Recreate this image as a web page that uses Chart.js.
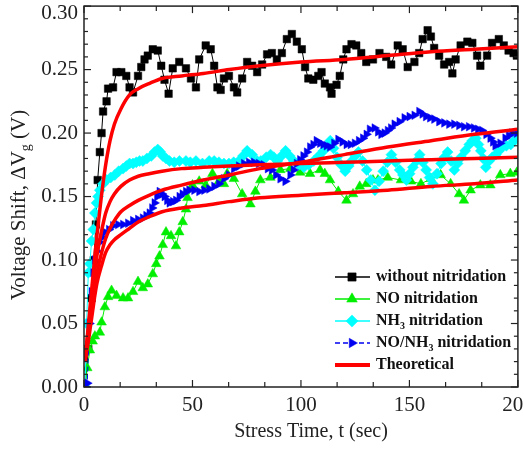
<!DOCTYPE html>
<html>
<head>
<meta charset="utf-8">
<script src="https://cdn.jsdelivr.net/npm/chart.js@4.4.1/dist/chart.umd.min.js"></script>
<style>
  html, body { margin: 0; padding: 0; background: #fff; }
</style>
</head>
<body>
<canvas id="myChart" width="524" height="450"></canvas>
<script>
// ---- data ----
const blackT = [0.5, 2, 3.5, 4.5, 5.5, 6.3, 7.3, 8.1, 8.8, 10.4,
  11.1, 13.4, 15, 17.2, 19.5, 21, 22.6, 24.9, 26.4, 27.9,
  29.4, 31.7, 34, 35.6, 37.1, 39, 40.9, 43.9, 47, 49.3,
  51.6, 53.1, 56.1, 58.4, 60, 61.5, 63, 64.5, 66.8, 69.1,
  70.6, 72.9, 75.2, 77.5, 79.8, 82.1, 84.4, 86.6, 88.9, 91.2,
  93.5, 95.8, 98.1, 100.4, 101.9, 103.4, 105.7, 108, 109.5, 111,
  113.4, 114.1, 116.4, 117.9, 119.5, 121, 123.3, 125.5, 127.8, 130.1,
  133.2, 136.2, 139.3, 141.6, 144.6, 146.9, 149.2, 152.3, 154.5, 156.1,
  158.4, 159.9, 161.4, 163.7, 166, 168.3, 169.8, 171.3, 173.6, 176.7,
  179, 181.2, 182.7, 185.8, 188.1, 191.2, 193.5, 195.7, 198, 199.5]
const blackV = [0.0, 0.03, 0.07, 0.10, 0.128, 0.163, 0.185, 0.200, 0.217, 0.225,
  0.235, 0.236, 0.248, 0.248, 0.245, 0.236, 0.232, 0.245, 0.252, 0.258,
  0.261, 0.266, 0.265, 0.253, 0.242, 0.231, 0.251, 0.256, 0.251, 0.243,
  0.236, 0.258, 0.269, 0.266, 0.253, 0.236, 0.234, 0.243, 0.245, 0.236,
  0.232, 0.243, 0.256, 0.253, 0.248, 0.254, 0.262, 0.263, 0.258, 0.263,
  0.274, 0.278, 0.272, 0.266, 0.252, 0.243, 0.242, 0.245, 0.248, 0.239,
  0.236, 0.231, 0.238, 0.245, 0.258, 0.266, 0.270, 0.269, 0.263, 0.256,
  0.258, 0.263, 0.260, 0.254, 0.269, 0.266, 0.252, 0.256, 0.263, 0.274,
  0.281, 0.276, 0.267, 0.261, 0.254, 0.256, 0.247, 0.258, 0.269, 0.272,
  0.271, 0.261, 0.253, 0.261, 0.271, 0.274, 0.269, 0.265, 0.263, 0.261]

const greenT = [0.5, 1.5, 2.7, 4, 5, 7.3, 8.1, 9.6, 11.1, 12.7,
  15, 18, 20.3, 22.6, 24.9, 27.1, 29.4, 31.7, 33.3, 34.8,
  36.3, 37.8, 40.1, 42.4, 43.9, 45.5, 47, 47.7, 50, 53.1,
  56.1, 59.2, 62.2, 64.5, 66, 69.1, 72.9, 76.7, 79, 81.3,
  85.9, 90.5, 95.1, 99.6, 104.2, 108.8, 111, 113.4, 117.2, 121,
  124, 127.1, 130.1, 133.2, 135.5, 140, 146.1, 150.7, 155.3, 159.9,
  164.4, 169, 172.9, 175.1, 178.2, 182.7, 187.3, 191.9, 196.5, 199.5]
const greenV = [0.0, 0.015, 0.029, 0.036, 0.040, 0.043, 0.051, 0.063, 0.071, 0.076,
  0.072, 0.070, 0.070, 0.075, 0.083, 0.078, 0.081, 0.089, 0.097, 0.103,
  0.112, 0.122, 0.119, 0.111, 0.122, 0.130, 0.140, 0.149, 0.159, 0.162,
  0.159, 0.168, 0.162, 0.160, 0.168, 0.164, 0.152, 0.144, 0.154, 0.163,
  0.165, 0.171, 0.172, 0.169, 0.168, 0.171, 0.168, 0.163, 0.154, 0.147,
  0.152, 0.158, 0.160, 0.163, 0.163, 0.165, 0.163, 0.162, 0.160, 0.164,
  0.167, 0.160, 0.152, 0.147, 0.155, 0.159, 0.159, 0.167, 0.168, 0.169]

const cyanT = [0.5, 1.2, 2, 2.7, 3.5, 4.3, 5, 5.8, 6.5, 7.3,
  8.8, 10.4, 12.3, 14.2, 16, 18, 19.5, 21, 22.6, 24.1,
  25.6, 27.1, 29, 31, 32.5, 34, 35.2, 36.3, 37.8, 39.4,
  41.6, 44, 47, 49, 51.6, 54.6, 57.7, 60, 62.2, 64.5,
  66.8, 69, 71.4, 73.3, 75.2, 77.5, 79.8, 81.5, 84, 86,
  87.5, 89.1, 91, 92.9, 94.8, 96.7, 99, 101.3, 103.6, 105.9,
  108.2, 110.4, 112, 113.5, 115, 116.6, 118.5, 120.4, 122, 123.4,
  125, 126.5, 128.4, 130.3, 132.2, 134.1, 136, 137.9, 139.8, 141.7,
  143.6, 145.5, 147, 148.6, 150.1, 151.6, 153.2, 154.7, 156.2, 157.7,
  159.3, 160.8, 162.7, 164.6, 166.1, 167.6, 169.2, 170.7, 172.2, 173.8,
  175.7, 177.6, 179, 180.6, 181.8, 182.9, 184, 185.2, 186.7, 188.2,
  189.8, 191.3, 192.8, 194.7, 196.7, 198.2, 199.7]
const cyanV = [0.0, 0.05, 0.09, 0.097, 0.115, 0.124, 0.137, 0.145, 0.150, 0.155,
  0.160, 0.163, 0.165, 0.167, 0.170, 0.172, 0.174, 0.176, 0.176, 0.177,
  0.178, 0.178, 0.180, 0.182, 0.185, 0.187, 0.185, 0.182, 0.180, 0.178,
  0.177, 0.178, 0.178, 0.177, 0.178, 0.176, 0.178, 0.178, 0.177, 0.176,
  0.176, 0.177, 0.178, 0.182, 0.186, 0.183, 0.178, 0.178, 0.181, 0.183,
  0.181, 0.178, 0.182, 0.186, 0.182, 0.178, 0.175, 0.173, 0.175, 0.178,
  0.182, 0.186, 0.190, 0.194, 0.188, 0.181, 0.175, 0.170, 0.174, 0.178,
  0.182, 0.185, 0.178, 0.171, 0.163, 0.155, 0.162, 0.170, 0.177, 0.183,
  0.177, 0.171, 0.167, 0.163, 0.168, 0.173, 0.178, 0.183, 0.177, 0.171,
  0.165, 0.160, 0.168, 0.176, 0.181, 0.185, 0.178, 0.171, 0.176, 0.181,
  0.186, 0.191, 0.194, 0.196, 0.191, 0.186, 0.180, 0.173, 0.178, 0.181,
  0.183, 0.186, 0.189, 0.190, 0.191, 0.194, 0.196]

const blueT = [0.5, 1.5, 2.5, 3.5, 4.3, 5, 6, 7.3, 8.5, 9.6,
  11.5, 13.4, 15.7, 18, 20.3, 22.6, 24.9, 27.1, 28.7, 30.2,
  31.4, 32.5, 33.7, 34.8, 36, 37.1, 38.3, 39.4, 41, 42.4,
  44, 45.4, 47, 48.5, 50.8, 53.1, 55.4, 57.7, 60, 62.2,
  64.5, 66.8, 69.1, 71.4, 73.7, 76, 78.3, 80.6, 82.8, 84.7,
  86.6, 88.5, 90.5, 92.8, 95.1, 96.6, 98.1, 99.6, 101.1, 102.7,
  104.2, 105.7, 107.2, 108.8, 110.3, 111.8, 113.4, 115.3, 117.2, 119.1,
  121, 122.9, 124.8, 126.7, 128.6, 130.2, 131.7, 133.9, 135.5, 137,
  138.5, 140, 141.5, 143.1, 145.4, 147.7, 150, 152.3, 154.5, 156,
  157.6, 159.5, 161.4, 163.7, 166, 168.3, 170.6, 172.9, 175.1, 177.4,
  179.7, 181.6, 183.5, 185.4, 187.3, 188.5, 189.6, 191.9, 194.2, 195.8,
  197.3, 199.5]
const blueV = [0.0, 0.003, 0.05, 0.075, 0.09, 0.1, 0.107, 0.114, 0.118, 0.122,
  0.124, 0.127, 0.128, 0.128, 0.129, 0.131, 0.132, 0.133, 0.135, 0.137,
  0.141, 0.145, 0.150, 0.154, 0.152, 0.150, 0.147, 0.145, 0.146, 0.147,
  0.150, 0.152, 0.154, 0.155, 0.155, 0.154, 0.155, 0.156, 0.158, 0.160,
  0.164, 0.167, 0.172, 0.174, 0.176, 0.177, 0.177, 0.176, 0.175, 0.172,
  0.171, 0.167, 0.164, 0.162, 0.167, 0.171, 0.176, 0.179, 0.182, 0.185,
  0.189, 0.191, 0.194, 0.192, 0.191, 0.190, 0.189, 0.192, 0.195, 0.193,
  0.191, 0.191, 0.192, 0.194, 0.196, 0.199, 0.203, 0.204, 0.201, 0.199,
  0.200, 0.202, 0.204, 0.207, 0.209, 0.212, 0.213, 0.214, 0.217, 0.215,
  0.213, 0.212, 0.211, 0.209, 0.208, 0.207, 0.207, 0.206, 0.205, 0.205,
  0.204, 0.203, 0.202, 0.199, 0.196, 0.193, 0.190, 0.192, 0.196, 0.198,
  0.200, 0.200]

// theoretical curves (one per sample)
const redT = [0.5, 1, 2, 3, 4, 5, 6, 8, 10, 12, 14, 17, 21, 25, 30, 36, 45, 55, 67, 81, 100, 120, 140, 160, 180, 200]
const redA = [0.022, 0.03, 0.048, 0.067, 0.085, 0.103, 0.12, 0.15, 0.175, 0.194, 0.207, 0.219, 0.230, 0.235, 0.239, 0.243, 0.245, 0.247, 0.250, 0.253, 0.256, 0.258, 0.261, 0.264, 0.266, 0.268]
const redB = [0.022, 0.03, 0.045, 0.062, 0.078, 0.092, 0.104, 0.122, 0.137, 0.146, 0.152, 0.158, 0.163, 0.166, 0.168, 0.170, 0.172, 0.173, 0.174, 0.175, 0.176, 0.177, 0.178, 0.179, 0.180, 0.181]
const redC = [0.02, 0.028, 0.04, 0.055, 0.068, 0.08, 0.09, 0.105, 0.117, 0.125, 0.131, 0.138, 0.143, 0.147, 0.151, 0.155, 0.159, 0.163, 0.167, 0.172, 0.177, 0.183, 0.189, 0.194, 0.199, 0.203]
const redD = [0.02, 0.026, 0.036, 0.048, 0.06, 0.072, 0.082, 0.095, 0.106, 0.112, 0.116, 0.120, 0.125, 0.130, 0.134, 0.138, 0.141, 0.143, 0.146, 0.149, 0.151, 0.153, 0.155, 0.158, 0.160, 0.163]

// axis ticks
const xMajorTicks = [0, 50, 100, 150, 200]
const xTickLabels = ['0', '50', '100', '150', '200']
const xMinorTicks = [16.67, 33.33, 66.67, 83.33, 116.67, 133.33, 166.67, 183.33]
const yMajorTicks = [0, 0.05, 0.10, 0.15, 0.20, 0.25, 0.30]
const yTickLabels = ['0.00', '0.05', '0.10', '0.15', '0.20', '0.25', '0.30']
const yMinorTicks = [0.01, 0.02, 0.03, 0.04, 0.06, 0.07, 0.08, 0.09, 0.11, 0.12, 0.13, 0.14,
  0.16, 0.17, 0.18, 0.19, 0.21, 0.22, 0.23, 0.24, 0.26, 0.27, 0.28, 0.29]

// legend: [label parts, dataset index]
const legendItems = [
  [[['without nitridation']], 0],
  [[['NO nitridation']], 1],
  [[['NH'], ['3', 'sub'], [' nitridation']], 2],
  [[['NO/NH'], ['3', 'sub'], [' nitridation']], 3],
  [[['Theoretical']], 4]
]

const serif = '"Liberation Serif", "DejaVu Serif", serif'

function pts(ts, vs) {
  return ts.map((t, i) => ({x: t, y: vs[i]}))
}

function marker(color, style, r, rot, order, label, dash) {
  return {
    label: label,
    borderColor: color,
    backgroundColor: color,
    pointBackgroundColor: color,
    pointBorderColor: color,
    borderWidth: 1,
    borderDash: dash || [],
    pointStyle: style,
    pointRadius: r,
    pointRotation: rot,
    pointBorderWidth: 0.5,
    order: order
  }
}

function theory(vals) {
  return {
    label: 'Theoretical',
    data: pts(redT, vals),
    borderColor: '#ff0000',
    borderWidth: 3.5,
    pointRadius: 0,
    cubicInterpolationMode: 'monotone',
    order: 0
  }
}

const datasets = [
  Object.assign(marker('#000000', 'rect', 5.3, 0, 4, 'without nitridation'), {data: pts(blackT, blackV)}),
  Object.assign(marker('#00ee00', 'triangle', 5.6, 0, 3, 'NO nitridation'), {data: pts(greenT, greenV)}),
  Object.assign(marker('#00ffff', 'rectRot', 5.5, 0, 2, 'NH3 nitridation'), {data: pts(cyanT, cyanV)}),
  Object.assign(marker('#0000f0', 'triangle', 5, 90, 1, 'NO/NH3 nitridation', [5, 3]), {data: pts(blueT, blueV)}),
  theory(redA), theory(redB), theory(redC), theory(redD)
]

function drawParts(ctx, parts, x, y, size, bold) {
  // draws text with subscripts, returns width
  let cx = x
  for (let p of parts) {
    let sub = p[1] == 'sub'
    let fs = sub ? Math.round(size * 0.65) : size
    ctx.font = (bold ? 'bold ' : '') + fs + 'px ' + serif
    ctx.fillText(p[0], cx, sub ? y + size * 0.35 : y)
    cx += ctx.measureText(p[0]).width
  }
  return cx - x
}

function partsWidth(ctx, parts, size, bold) {
  let w = 0
  for (let p of parts) {
    let fs = p[1] == 'sub' ? Math.round(size * 0.65) : size
    ctx.font = (bold ? 'bold ' : '') + fs + 'px ' + serif
    w += ctx.measureText(p[0]).width
  }
  return w
}

const framePlugin = {
  id: 'frame',
  afterDraw(chart) {
    const ctx = chart.ctx
    const ca = chart.chartArea
    const xs = chart.scales.x, ys = chart.scales.y
    ctx.save()
    ctx.strokeStyle = '#222'
    ctx.lineWidth = 1.5
    ctx.strokeRect(ca.left, ca.top, ca.right - ca.left, ca.bottom - ca.top)

    function seg(x1, y1, x2, y2) {
      ctx.beginPath(); ctx.moveTo(x1, y1); ctx.lineTo(x2, y2); ctx.stroke()
    }
    ctx.lineWidth = 1.2
    for (let v of xMajorTicks) {
      let px = xs.getPixelForValue(v)
      seg(px, ca.bottom, px, ca.bottom - 7); seg(px, ca.top, px, ca.top + 7)
    }
    for (let v of xMinorTicks) {
      let px = xs.getPixelForValue(v)
      seg(px, ca.bottom, px, ca.bottom - 5); seg(px, ca.top, px, ca.top + 5)
    }
    for (let v of yMajorTicks) {
      let py = ys.getPixelForValue(v)
      seg(ca.left, py, ca.left + 7, py); seg(ca.right, py, ca.right - 7, py)
    }
    for (let v of yMinorTicks) {
      let py = ys.getPixelForValue(v)
      seg(ca.left, py, ca.left + 4, py); seg(ca.right, py, ca.right - 4, py)
    }

    // tick labels
    ctx.fillStyle = '#222'
    ctx.font = '21px ' + serif
    ctx.textAlign = 'right'
    ctx.textBaseline = 'middle'
    yMajorTicks.forEach((v, i) => {
      let py = Math.max(ys.getPixelForValue(v), 13)
      ctx.fillText(yTickLabels[i], ca.left - 6, py)
    })
    ctx.textAlign = 'center'
    ctx.textBaseline = 'top'
    xMajorTicks.forEach((v, i) => {
      ctx.fillText(xTickLabels[i], xs.getPixelForValue(v), ca.bottom + 8)
    })

    // axis titles
    ctx.textAlign = 'center'
    ctx.textBaseline = 'middle'
    ctx.font = '20px ' + serif
    ctx.fillText('Stress Time, t (sec)', 311, 432)

    let yTitle = [['Voltage Shift, \u0394V'], ['g', 'sub'], [' (V)']]
    ctx.save()
    ctx.translate(19, 205)
    ctx.rotate(-Math.PI / 2)
    ctx.textAlign = 'left'
    let w = partsWidth(ctx, yTitle, 21, false)
    drawParts(ctx, yTitle, -w / 2, 0, 21, false)
    ctx.restore()

    // legend
    ctx.textAlign = 'left'
    ctx.textBaseline = 'middle'
    legendItems.forEach((item, i) => {
      let ds = chart.data.datasets[item[1]]
      let ly = 277 + i * 22
      ctx.strokeStyle = ds.borderColor
      ctx.lineWidth = ds.pointRadius ? 1.3 : 4
      ctx.setLineDash(ds.borderDash || [])
      seg(335, ly, 370, ly)
      ctx.setLineDash([])
      if (ds.pointRadius) {
        ctx.fillStyle = ds.pointBackgroundColor
        ctx.strokeStyle = ds.pointBorderColor
        ctx.lineWidth = 0.5
        Chart.helpers.drawPoint(ctx, {
          pointStyle: ds.pointStyle,
          radius: ds.pointRadius * 1.1,
          rotation: ds.pointRotation,
          borderWidth: 0.5
        }, 352, ly)
      }
      ctx.fillStyle = '#111'
      drawParts(ctx, item[0], 376, ly, 16, true)
    })
    ctx.restore()
  }
}

const ctx = document.getElementById('myChart').getContext('2d')
new Chart(ctx, {
  type: 'line',
  data: {datasets: datasets},
  options: {
    responsive: false,
    animation: false,
    devicePixelRatio: 1,
    layout: {padding: {top: 2, right: 2, left: 0, bottom: 0}},
    scales: {
      x: {
        type: 'linear', min: 0, max: 200,
        grid: {display: false}, border: {display: false},
        ticks: {display: false},
        afterFit: s => { s.height = 63; s.paddingLeft = 0; s.paddingRight = 0 }
      },
      y: {
        type: 'linear', min: 0, max: 0.30,
        grid: {display: false}, border: {display: false},
        ticks: {display: false},
        afterFit: s => { s.width = 84; s.paddingTop = 0; s.paddingBottom = 0 }
      }
    },
    plugins: {
      legend: {display: false},
      tooltip: {enabled: false}
    }
  },
  plugins: [framePlugin]
})
</script>
</body>
</html>
